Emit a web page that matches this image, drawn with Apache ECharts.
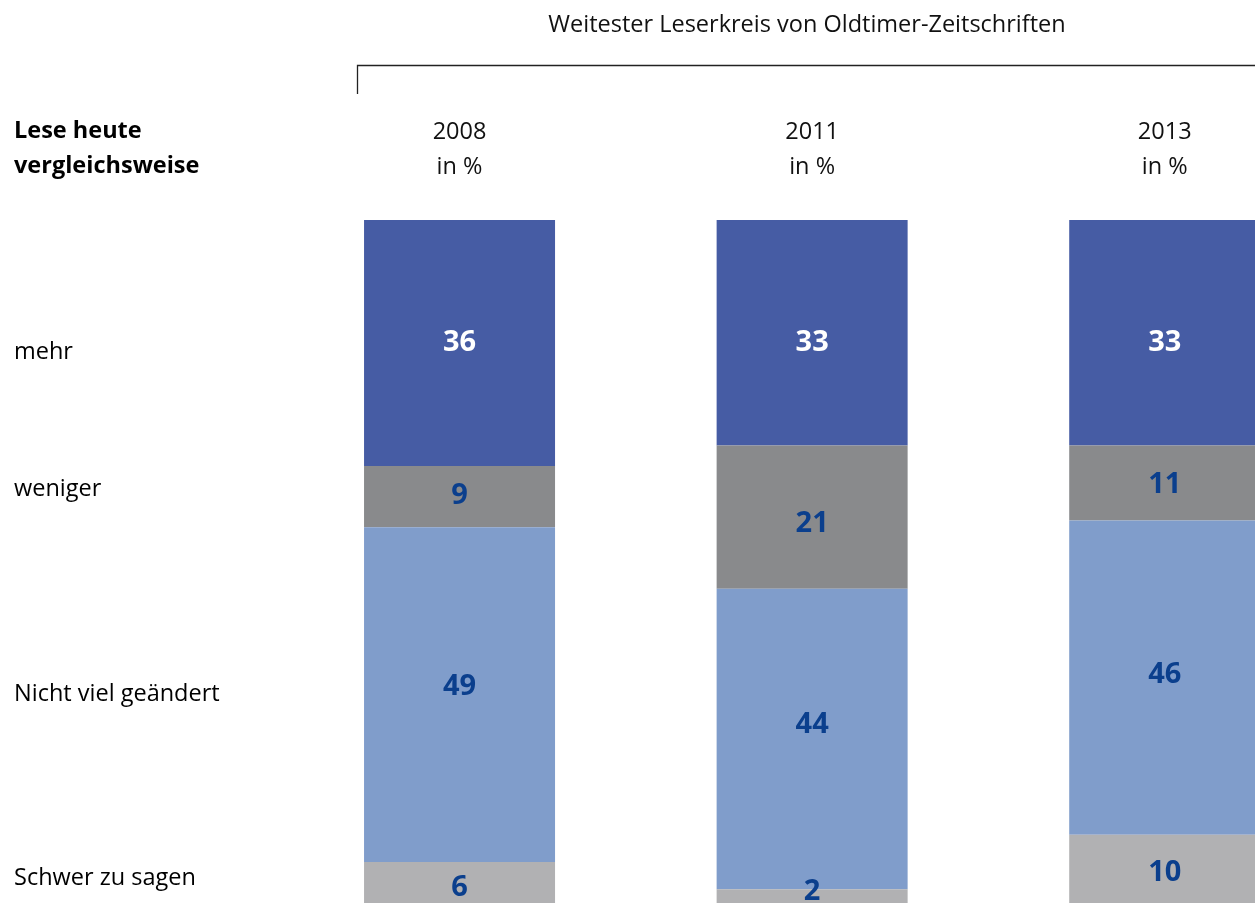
<!DOCTYPE html>
<html><head><meta charset="utf-8">
<script src="https://cdn.jsdelivr.net/npm/echarts@6/dist/echarts.min.js"></script>
<style>html,body{margin:0;padding:0;background:#fff;overflow:hidden}#c{width:1341px;height:903px}</style>
</head><body><div id="c"></div>
<script>
const years = ['2008', '2011', '2013'];
const seriesNames = ['mehr', 'weniger', 'Nicht viel geändert', 'Schwer zu sagen'];
const mehr = [36, 33, 33];
const weniger = [9, 21, 11];
const nichtViel = [49, 44, 46];
const schwer = [6, 2, 10];
const title = 'Weitester Leserkreis von Oldtimer-Zeitschriften';
const rowTitle = ['Lese heute', 'vergleichsweise'];

const FONT = '"Open Sans", sans-serif';
const colors = ['#465ca4', '#898a8c', '#809dcb', '#b1b1b3'];
const labelColors = ['#ffffff', '#0b3f8d', '#0b3f8d', '#0b3f8d'];
const labelOffsets = [
  [[0,0],[0,10],[0,10]],
  [[0,-1],[0,7],[0,2]],
  [[0,-8],[0,-14],[0,-3]],
  [[0,5],[0,-4],[0,4]]
];
const values = [mehr, weniger, nichtViel, schwer];

const chart = echarts.init(document.getElementById('c'));
const series = values.map((vals, i) => ({
  name: seriesNames[i],
  type: 'bar',
  stack: 'total',
  barWidth: 191,
  itemStyle: { color: colors[i] },
  data: vals.map((v, j) => ({
    value: v,
    label: { offset: labelOffsets[i][j] }
  })),
  label: {
    show: true,
    position: 'inside',
    color: labelColors[i],
    fontFamily: FONT,
    fontWeight: 'bold',
    fontSize: 29
  }
}));

const leftLabelY = [352, 489, 694, 878];
const graphics = [
  { type: 'text', x: 807, y: 25, style: { text: title, fontFamily: FONT, fontSize: 23.5, fill: '#111', align: 'center', verticalAlign: 'middle' } },
  { type: 'polyline', shape: { points: [[357.5, 94], [357.5, 65.5], [1340, 65.5]] }, style: { stroke: '#222', lineWidth: 1.3, fill: null } },
  { type: 'text', x: 14, y: 131, style: { text: rowTitle[0], fontFamily: FONT, fontWeight: 'bold', fontSize: 23.5, fill: '#000', verticalAlign: 'middle' } },
  { type: 'text', x: 14, y: 166, style: { text: rowTitle[1], fontFamily: FONT, fontWeight: 'bold', fontSize: 23.5, fill: '#000', verticalAlign: 'middle' } }
];
seriesNames.forEach((n, i) => {
  graphics.push({ type: 'text', x: 14, y: leftLabelY[i], style: { text: n, fontFamily: FONT, fontSize: 23.5, fill: '#000', verticalAlign: 'middle' } });
});

chart.setOption({
  animation: false,
  backgroundColor: '#fff',
  grid: { left: 283.25, right: 0, top: 220, bottom: 0, containLabel: false },
  xAxis: {
    type: 'category',
    position: 'top',
    data: years,
    axisLine: { show: false },
    axisTick: { show: false },
    axisLabel: {
      margin: 35,
      formatter: v => v + '\nin %',
      fontFamily: FONT,
      fontSize: 23.5,
      lineHeight: 35,
      color: '#111'
    }
  },
  yAxis: {
    type: 'value',
    min: 0, max: 100,
    inverse: true,
    show: false,
    splitLine: { show: false }
  },
  series: series,
  graphic: graphics
});
</script>
</body></html>
